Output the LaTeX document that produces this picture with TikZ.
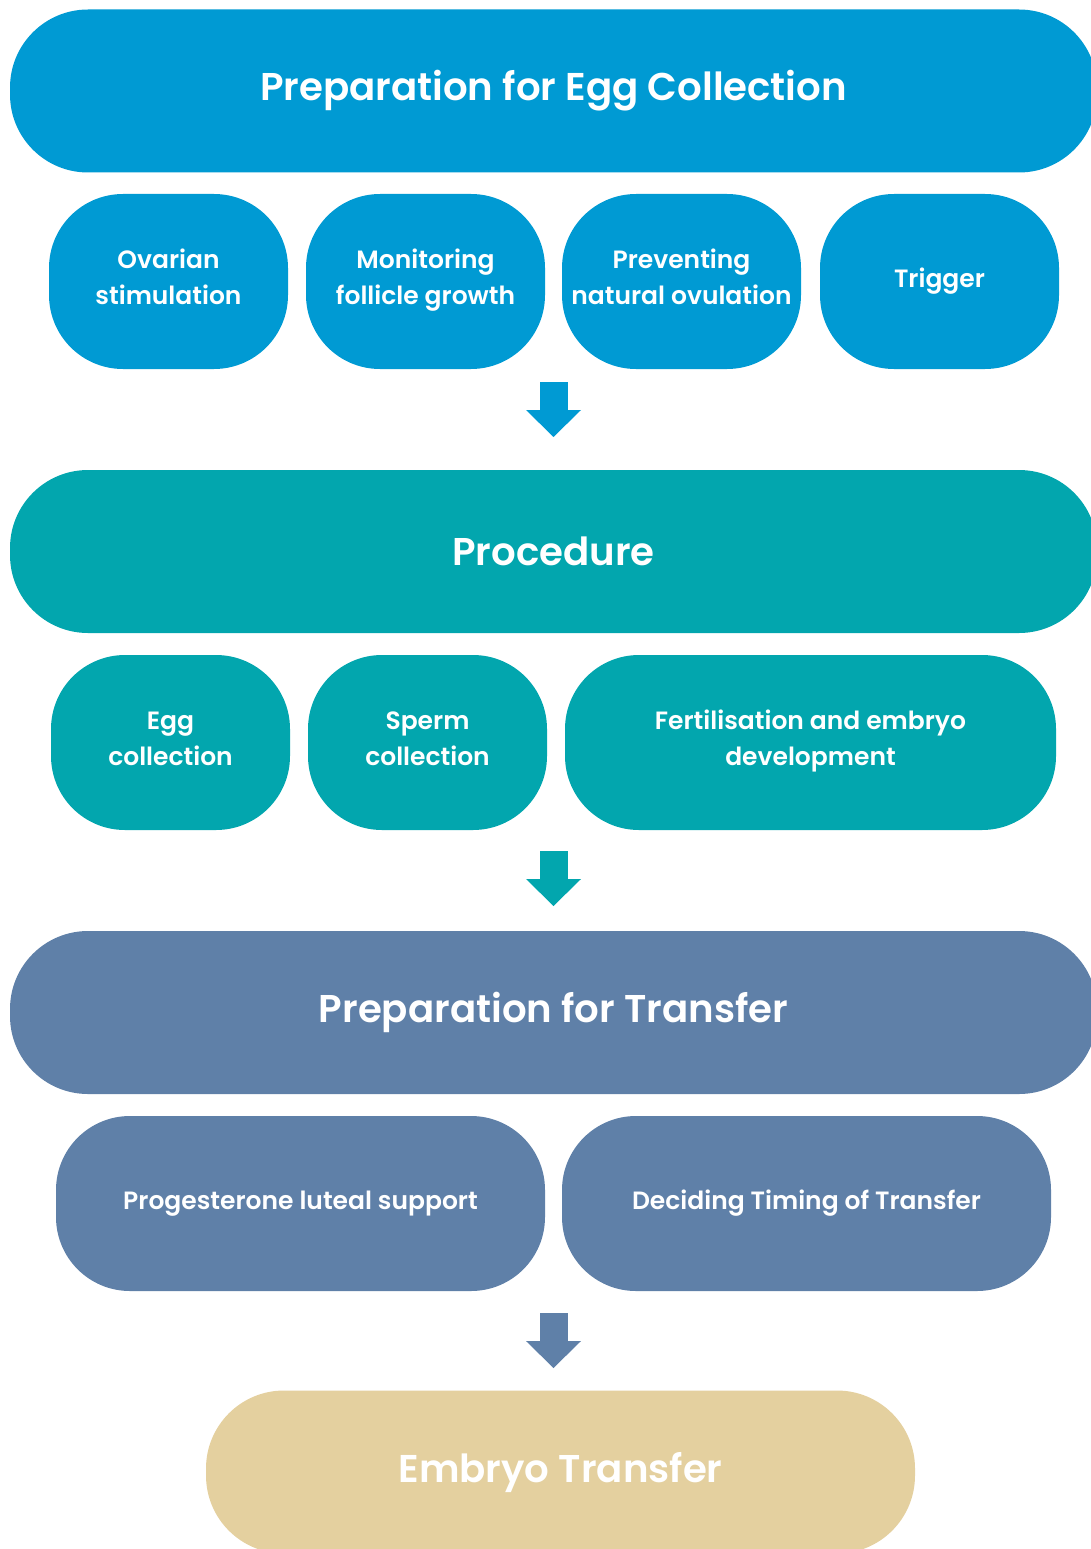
\documentclass[tikz,border=0pt]{standalone}
\usepackage{fontspec}
\setmainfont{Poppins}[UprightFont=* Medium, BoldFont=* SemiBold]
\usetikzlibrary{arrows.meta}

\definecolor{eggblue}{RGB}{0,154,211}
\definecolor{proteal}{RGB}{2,166,174}
\definecolor{transslate}{RGB}{95,128,168}
\definecolor{embtan}{RGB}{228,208,159}

\tikzset{
  stage/.style={fill=#1, rounded corners=78pt, minimum width=1087pt,
    minimum height=163pt, inner sep=0pt, text=white,
    font=\bfseries\fontsize{38.7}{46}\selectfont},
  task/.style={fill=#1, rounded corners=74pt, minimum width=239pt,
    minimum height=175pt, inner sep=0pt, text=white, align=center,
    font=\bfseries\fontsize{25}{36}\selectfont},
  twoline/.style={task=#1, text height=51pt, text depth=6pt},
  flow/.style={draw=#1, line width=28pt,
    -{Triangle[width=55pt,length=27pt,line width=0pt]}}
}

\begin{document}
\begin{tikzpicture}[x=1pt,y=-1pt]
\path[use as bounding box, clip] (0,0) rectangle (1091,1549);

% egg collection
\node[stage=eggblue] (prep) at (553.5,91) {Preparation for Egg Collection};
\node[twoline=eggblue] (ovar) at (168.5,281.5) {Ovarian\\stimulation};
\node[twoline=eggblue] (moni) at (425.5,281.5) {Monitoring\\follicle growth};
\node[twoline=eggblue] (prev) at (681.5,281.5) {Preventing\\natural ovulation};
\node[task=eggblue] (trig) at (939.5,281.5) {Trigger};

\coordinate (f1s) at (553.5,382);
\coordinate (f1e) at (553.5,437);
\draw[flow=eggblue] (f1s) -- (f1e);

% procedure
\node[stage=proteal] (proc) at (553.5,551.5) {Procedure};
\node[twoline=proteal] (eggc) at (170.5,742.5) {Egg\\collection};
\node[twoline=proteal] (sper) at (427.5,742.5) {Sperm\\collection};
\node[twoline=proteal, minimum width=491pt] (fert) at (810.5,742.5)
  {Fertilisation and embryo\\development};

\coordinate (f2s) at (553.5,851);
\coordinate (f2e) at (553.5,906);
\draw[flow=proteal] (f2s) -- (f2e);

% transfer
\node[stage=transslate] (tran) at (553.5,1012.5) {Preparation for Transfer};
\node[task=transslate, minimum width=489pt] (prog) at (300.5,1203.5)
  {Progesterone luteal support};
\node[task=transslate, minimum width=489pt] (time) at (806.5,1203.5)
  {Deciding Timing of Transfer};

\coordinate (f3s) at (553.5,1313);
\coordinate (f3e) at (553.5,1368);
\draw[flow=transslate] (f3s) -- (f3e);

\node[stage=embtan, minimum width=709pt] (embr) at (560.5,1472)
  {Embryo Transfer};
\end{tikzpicture}
\end{document}
